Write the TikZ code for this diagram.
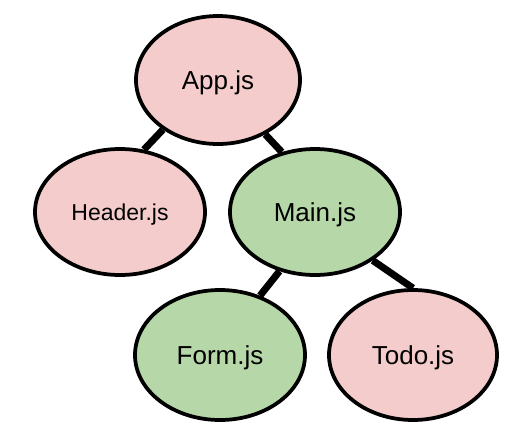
\documentclass[tikz,border=0pt]{standalone}
\usepackage{fontspec}
\setmainfont{Liberation Sans}
\usetikzlibrary{shapes.geometric}
\definecolor{pinkfill}{HTML}{F4CCCC}
\definecolor{greenfill}{HTML}{B6D7A8}
\begin{document}
\begin{tikzpicture}[x=1pt, y=-1pt,
  module/.style={ellipse, draw=black, line width=3.75pt, inner sep=0pt,
    minimum width=170pt, minimum height=126pt, text depth=0pt,
    font=\fontsize{26}{30}\selectfont},
  link/.style={line width=7pt}]
  \useasboundingbox (0,0) rectangle (514,434);
  % Modules
  \node[module, fill=pinkfill, minimum width=164pt, minimum height=128pt] (app) at (218,80) {App.js};
  \node[module, fill=pinkfill, font=\fontsize{23}{27}\selectfont] (header) at (120,212) {Header.js};
  \node[module, fill=greenfill] (main) at (315,212) {Main.js};
  \node[module, fill=greenfill, minimum height=130pt] (form) at (220,355) {Form.js};
  \node[module, fill=pinkfill, minimum width=168pt, minimum height=130pt] (todo) at (413,355) {Todo.js};

  % Links
  \draw[link] (app.222) -- (header.69);
  \draw[link] (app.311) -- (main.119);
  \draw[link] (main.239) -- (form.56);
  \draw[link] (main.320) -- (todo.90);
\end{tikzpicture}
\end{document}
